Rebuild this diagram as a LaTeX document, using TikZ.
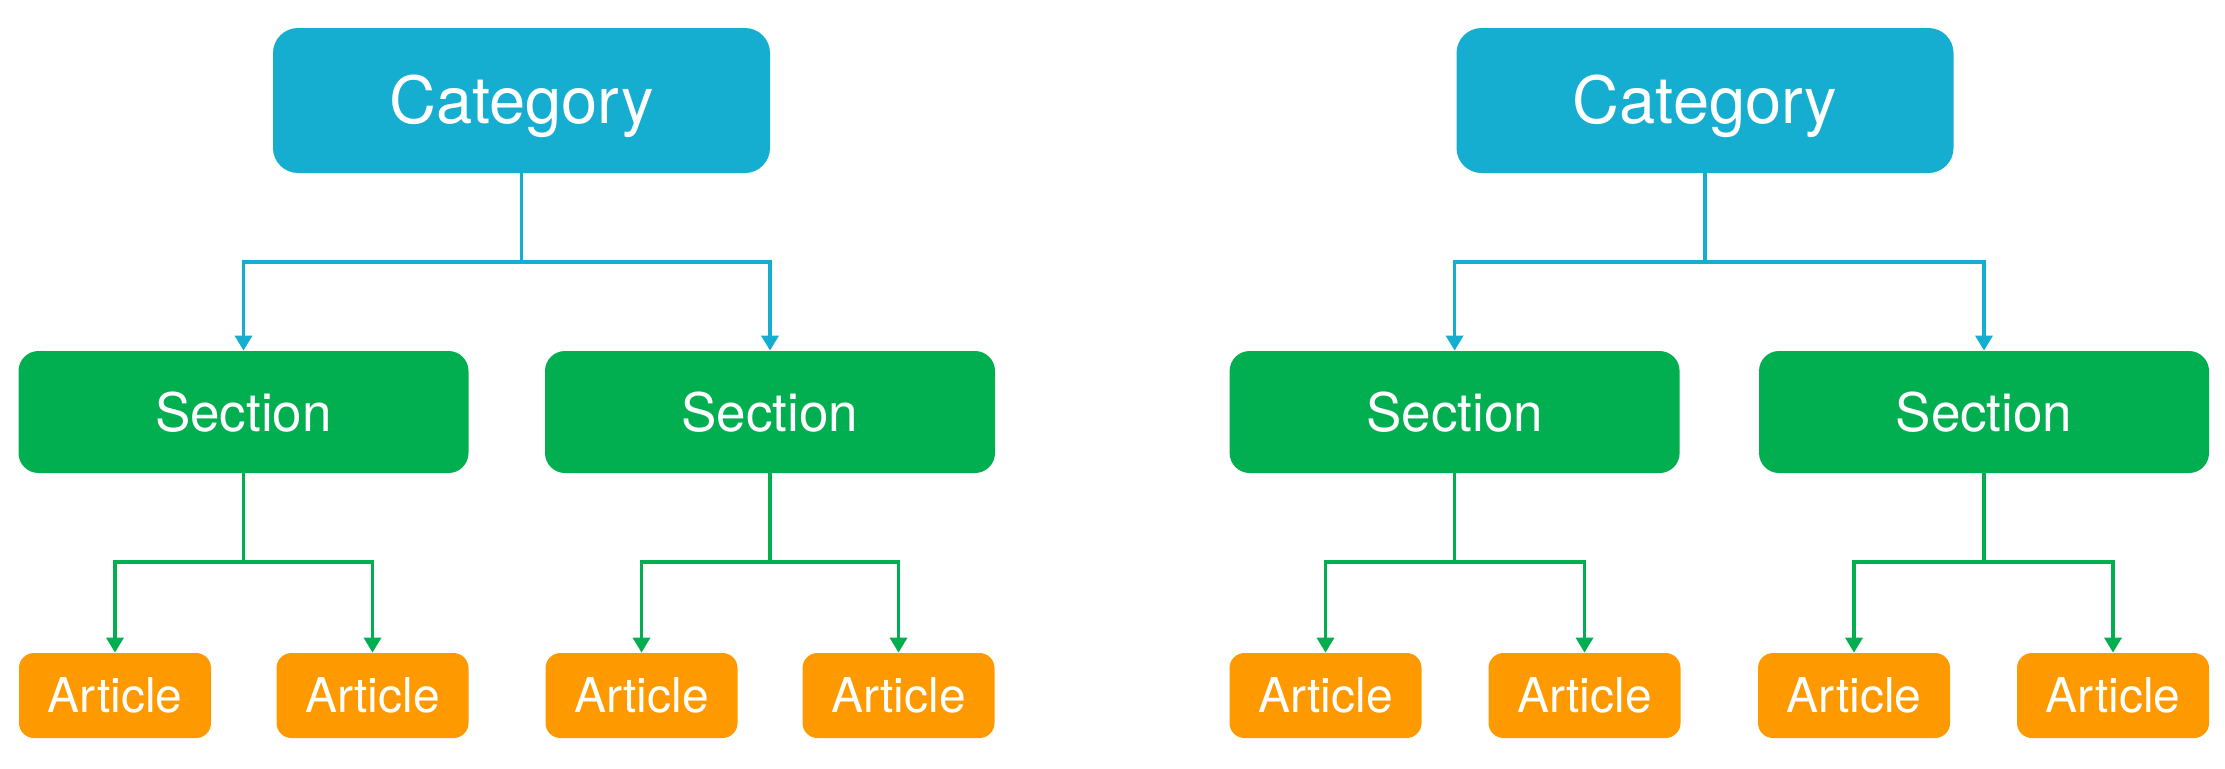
\documentclass[tikz,border=0pt]{standalone}
\usepackage{fontspec}
\setmainfont{TeX Gyre Heros}
\usetikzlibrary{arrows.meta}
\definecolor{catblue}{HTML}{15AED1}
\definecolor{secgreen}{HTML}{02AF50}
\definecolor{artorange}{HTML}{FF9900}
\begin{document}
\begin{tikzpicture}[x=0.5pt,y=-0.5pt,
  box/.style={rectangle,inner sep=0pt,text=white,text depth=0pt},
  catbox/.style={box,fill=catblue,rounded corners=12.5pt,minimum width=248.5pt,minimum height=72.5pt,font=\fontsize{32.5}{36}\selectfont,text height=23.3pt},
  secbox/.style={box,fill=secgreen,rounded corners=10pt,minimum width=225pt,minimum height=61pt,font=\fontsize{26.5}{30}\selectfont,text height=19pt},
  artbox/.style={box,fill=artorange,rounded corners=7.5pt,minimum width=96pt,minimum height=42.5pt,font=\fontsize{24}{28}\selectfont,text height=17.2pt},
  bluelink/.style={draw=catblue,line width=1.7pt,-{Triangle[width=8.5pt,length=7.5pt]}},
  greenlink/.style={draw=secgreen,line width=1.7pt,-{Triangle[width=8.5pt,length=7.5pt]}}
]
\useasboundingbox (0,0) rectangle (2225,768);
% left tree
\node[catbox] (catL) at (521.5,100.5) {Category};
\node[secbox] (secA) at (243.5,412) {Section};
\node[secbox] (secB) at (770,412) {Section};
\node[artbox] (a1) at (115,695.5) {Article};
\node[artbox] (a2) at (372.5,695.5) {Article};
\node[artbox] (a3) at (641.5,695.5) {Article};
\node[artbox] (a4) at (898.5,695.5) {Article};
% right tree
\node[catbox] (catR) at (1705,100.5) {Category};
\node[secbox] (secC) at (1454.6,412) {Section};
\node[secbox] (secD) at (1984,412) {Section};
\node[artbox] (a5) at (1325.5,695.5) {Article};
\node[artbox] (a6) at (1584.5,695.5) {Article};
\node[artbox] (a7) at (1854,695.5) {Article};
\node[artbox] (a8) at (2113,695.5) {Article};
% coordinates for junctions
\coordinate (jL) at (521.5,262);
\coordinate (jR) at (1705,262);
\coordinate (jA) at (243.5,562);
\coordinate (jB) at (770,562);
\coordinate (jC) at (1454.6,562);
\coordinate (jD) at (1984,562);
% connectors
\draw[bluelink] (catL.south) -- (jL) -| (secA.north);
\draw[bluelink] (jL) -| (secB.north);
\draw[bluelink] (catR.south) -- (jR) -| (secC.north);
\draw[bluelink] (jR) -| (secD.north);
\draw[greenlink] (secA.south) -- (jA) -| (a1.north);
\draw[greenlink] (jA) -| (a2.north);
\draw[greenlink] (secB.south) -- (jB) -| (a3.north);
\draw[greenlink] (jB) -| (a4.north);
\draw[greenlink] (secC.south) -- (jC) -| (a5.north);
\draw[greenlink] (jC) -| (a6.north);
\draw[greenlink] (secD.south) -- (jD) -| (a7.north);
\draw[greenlink] (jD) -| (a8.north);
\end{tikzpicture}
\end{document}
